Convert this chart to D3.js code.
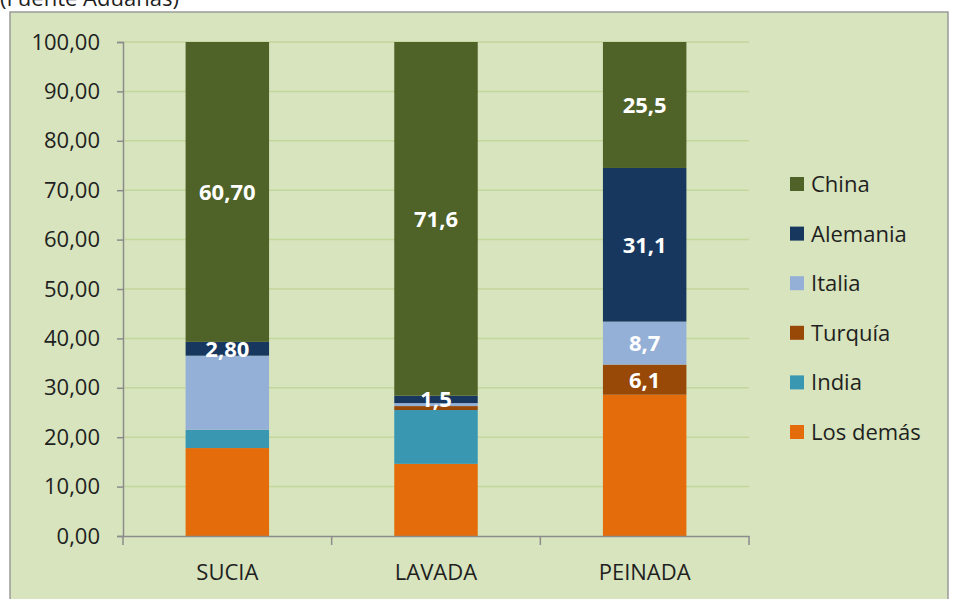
<!DOCTYPE html>
<meta charset="utf-8">
<script src="https://d3js.org/d3.v7.min.js"></script>
<style>
  body { margin: 0; background: #fff; }
  text { font-family: "Open Sans", sans-serif; }
</style>
<div id="chart"></div>
<script>

// data (percent of each category)
var categories = ["SUCIA", "LAVADA", "PEINADA"];
var series = ["Los demás", "India", "Turquía", "Italia", "Alemania", "China"];
var losDemas = [17.8, 14.6, 28.6];
var india    = [3.7, 10.9, 0];
var turquia  = [0, 0.8, 6.1];
var italia   = [15.0, 0.6, 8.7];
var alemania = [2.8, 1.5, 31.1];
var china    = [60.7, 71.6, 25.5];

// labels shown inside the segments
var labelsChina    = ["60,70", "71,6", "25,5"];
var labelsAlemania = ["2,80", "1,5", "31,1"];
var labelsItalia   = [null, null, "8,7"];
var labelsTurquia  = [null, null, "6,1"];

var yTicks = [0, 10, 20, 30, 40, 50, 60, 70, 80, 90, 100];
var legendOrder = ["China", "Alemania", "Italia", "Turquía", "India", "Los demás"];

var colors = {
  "Los demás": "#e46c0a",
  "India": "#3a97b1",
  "Turquía": "#984807",
  "Italia": "#95b0d6",
  "Alemania": "#17375e",
  "China": "#4f6228"
};

var valuesBySeries = {
  "Los demás": losDemas, "India": india, "Turquía": turquia,
  "Italia": italia, "Alemania": alemania, "China": china
};
var labelsBySeries = {
  "China": labelsChina, "Alemania": labelsAlemania,
  "Italia": labelsItalia, "Turquía": labelsTurquia
};

var table = categories.map(function(c, i) {
  var row = { cat: c };
  series.forEach(function(s) { row[s] = valuesBySeries[s][i]; });
  return row;
});

var W = 953, H = 599;
var svg = d3.select("#chart").append("svg")
  .attr("width", W).attr("height", H);

// title, sitting just above the panel like the source
svg.append("text")
  .attr("x", 0).attr("y", 6)
  .attr("font-size", 22)
  .attr("fill", "#1f1f1f")
  .text("(Fuente Aduanas)");

// panel
svg.append("rect")
  .attr("x", 10).attr("y", 12)
  .attr("width", 938).attr("height", 600)
  .attr("fill", "#d7e4bd")
  .attr("stroke", "#9a9a9a")
  .attr("stroke-width", 1.5);

var x = d3.scaleBand()
  .domain(categories)
  .range([123, 749])
  .paddingInner(0.6)
  .paddingOuter(0.3);

var y = d3.scaleLinear()
  .domain([0, 100])
  .range([536, 42]);

// gridlines
svg.append("g")
  .selectAll("line")
  .data(yTicks.slice(1))
  .join("line")
    .attr("x1", 123).attr("x2", 749)
    .attr("y1", function(d) { return y(d); })
    .attr("y2", function(d) { return y(d); })
    .attr("stroke", "#c3d69b")
    .attr("stroke-width", 1.5);

// bars
var stacked = d3.stack().keys(series)(table);

svg.append("g")
  .selectAll("g")
  .data(stacked)
  .join("g")
    .attr("fill", function(d) { return colors[d.key]; })
  .selectAll("rect")
  .data(function(d) { return d; })
  .join("rect")
    .attr("x", function(d) { return x(d.data.cat); })
    .attr("y", function(d) { return y(d[1]); })
    .attr("height", function(d) { return y(d[0]) - y(d[1]); })
    .attr("width", x.bandwidth());

// segment labels
stacked.forEach(function(layer) {
  var labs = labelsBySeries[layer.key];
  if (!labs) return;
  layer.forEach(function(d, i) {
    if (!labs[i]) return;
    svg.append("text")
      .attr("x", x(d.data.cat) + x.bandwidth() / 2)
      .attr("y", y((d[0] + d[1]) / 2))
      .attr("dy", "0.36em")
      .attr("text-anchor", "middle")
      .attr("font-size", 22)
      .attr("font-weight", "bold")
      .attr("fill", "#ffffff")
      .text(labs[i]);
  });
});

// y axis
var yAxis = svg.append("g")
  .attr("transform", "translate(123,0)")
  .call(d3.axisLeft(y)
    .tickValues(yTicks)
    .tickSize(6)
    .tickPadding(17)
    .tickFormat(function(d) { return d3.format(".2f")(d).replace(".", ","); }));

// x axis
var xAxis = svg.append("g")
  .attr("transform", "translate(0,536)")
  .call(d3.axisBottom(x).tickSize(0).tickPadding(28));

// x tick marks at band boundaries
svg.append("g")
  .selectAll("line")
  .data(d3.range(categories.length + 1))
  .join("line")
    .attr("x1", function(i) { return 123 + i * x.step(); })
    .attr("x2", function(i) { return 123 + i * x.step(); })
    .attr("y1", 536).attr("y2", 545)
    .attr("stroke", "#8c8c8c")
    .attr("stroke-width", 1.5);

[yAxis, xAxis].forEach(function(a) {
  a.selectAll(".domain").attr("stroke", "#8c8c8c").attr("stroke-width", 1.5);
  a.selectAll(".tick line").attr("stroke", "#8c8c8c").attr("stroke-width", 1.5);
  a.selectAll("text")
    .attr("font-family", "Open Sans, sans-serif")
    .attr("font-size", 22)
    .attr("fill", "#1f1f1f");
});

// legend
var legend = svg.append("g")
  .selectAll("g")
  .data(legendOrder)
  .join("g")
    .attr("transform", function(d, i) { return "translate(790," + (184 + i * 49.6) + ")"; });

legend.append("rect")
  .attr("x", 0).attr("y", -7)
  .attr("width", 14).attr("height", 14)
  .attr("fill", function(d) { return colors[d]; });

legend.append("text")
  .attr("x", 21).attr("dy", "0.36em")
  .attr("font-size", 22)
  .attr("fill", "#1f1f1f")
  .text(function(d) { return d; });

</script>
